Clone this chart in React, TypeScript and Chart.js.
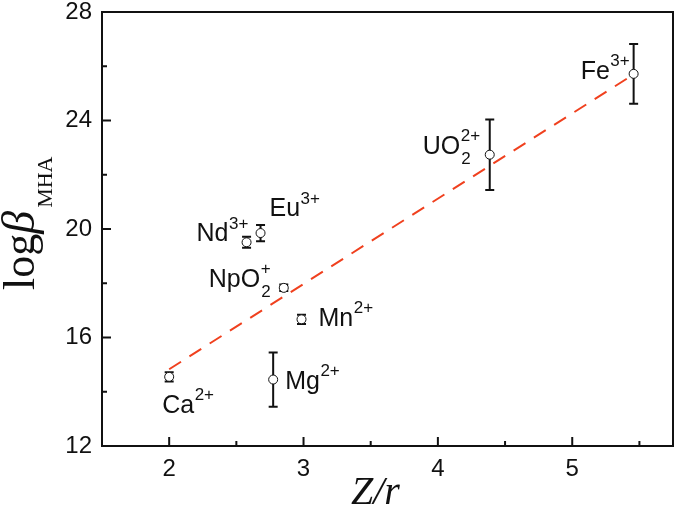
import React, { useEffect, useRef } from 'react';
import { Chart, registerables } from 'chart.js';

Chart.register(...registerables);

// ---- data ----
const ionNames = ['Ca', 'Mg', 'Mn', 'NpO', 'Nd', 'Eu', 'UO', 'Fe'];
const ionSup = ['2+', '2+', '2+', '+', '3+', '3+', '2+', '3+'];
const ionSub = ['', '', '', '2', '', '', '2', ''];
const zOverR = [2.0, 2.774, 2.985, 2.853, 2.576, 2.68, 4.386, 5.457];
const logBeta = [14.55, 14.45, 16.67, 17.83, 19.51, 19.85, 22.74, 25.72];
const logBetaErr = [0.17, 1.0, 0.17, 0.12, 0.2, 0.3, 1.3, 1.1];
const fitZ = [2.0, 5.457];
const fitLogBeta = [14.83, 25.7];
const xMajorTicks = [2, 3, 4, 5];
const xMinorTicks = [2.5, 3.5, 4.5, 5.5];
const yMajorTicks = [12, 16, 20, 24, 28];
const yMinorTicks = [14, 18, 22, 26];

// label placement offsets (pixels from the point)
const labelOffsets: [number, number][] = [
  [-7, 36], [12, 9], [17, 6.5], [-75, -1], [-50, -1], [9, -17], [-67, -1], [-53, 5],
];

const SANS = '"Liberation Sans", Arial, sans-serif';
const SERIF = '"Liberation Serif", "Times New Roman", serif';
const PLOT_RIGHT = 673;

const decorPlugin = {
  id: 'decor',
  afterLayout(chart: any) {
    const xs = chart.scales.x;
    if (chart.chartArea.right !== PLOT_RIGHT) {
      chart.chartArea.right = PLOT_RIGHT;
      chart.chartArea.width = PLOT_RIGHT - chart.chartArea.left;
      xs.right = PLOT_RIGHT;
      xs.width = PLOT_RIGHT - xs.left;
      xs.configure();
    }
  },
  beforeDatasetDraw(chart: any, args: any) {
    if (args.index !== 0) return;
    const ctx = chart.ctx;
    const xs = chart.scales.x;
    const ys = chart.scales.y;
    ctx.save();
    ctx.strokeStyle = '#111';
    ctx.lineWidth = 2;
    for (let i = 0; i < zOverR.length; i++) {
      const px = xs.getPixelForValue(zOverR[i]);
      const top = ys.getPixelForValue(logBeta[i] + logBetaErr[i]);
      const bot = ys.getPixelForValue(logBeta[i] - logBetaErr[i]);
      ctx.beginPath();
      ctx.moveTo(px, top);
      ctx.lineTo(px, bot);
      ctx.moveTo(px - 4.5, top);
      ctx.lineTo(px + 4.5, top);
      ctx.moveTo(px - 4.5, bot);
      ctx.lineTo(px + 4.5, bot);
      ctx.stroke();
    }
    ctx.restore();
  },
  afterDatasetsDraw(chart: any) {
    const ctx = chart.ctx;
    const xs = chart.scales.x;
    const ys = chart.scales.y;
    const { left, right, top, bottom } = chart.chartArea;
    ctx.save();
    // frame
    ctx.strokeStyle = '#111';
    ctx.lineWidth = 2;
    ctx.strokeRect(left, top, right - left, bottom - top);
    ctx.beginPath();
    for (const v of xMajorTicks) {
      const p = xs.getPixelForValue(v);
      ctx.moveTo(p, bottom);
      ctx.lineTo(p, bottom - 9);
    }
    for (const v of xMinorTicks) {
      const p = xs.getPixelForValue(v);
      ctx.moveTo(p, bottom);
      ctx.lineTo(p, bottom - 5);
    }
    for (const v of yMajorTicks) {
      const p = ys.getPixelForValue(v);
      ctx.moveTo(left, p);
      ctx.lineTo(left + 9, p);
    }
    for (const v of yMinorTicks) {
      const p = ys.getPixelForValue(v);
      ctx.moveTo(left, p);
      ctx.lineTo(left + 5, p);
    }
    ctx.stroke();

    // point labels
    ctx.fillStyle = '#111';
    ctx.textBaseline = 'alphabetic';
    ctx.textAlign = 'left';
    for (let i = 0; i < ionNames.length; i++) {
      const px = xs.getPixelForValue(zOverR[i]) + labelOffsets[i][0];
      const py = ys.getPixelForValue(logBeta[i]) + labelOffsets[i][1];
      ctx.font = `25px ${SANS}`;
      ctx.fillText(ionNames[i], px, py);
      const w = ctx.measureText(ionNames[i]).width;
      ctx.font = `17px ${SANS}`;
      ctx.fillText(ionSup[i], px + w + 0.5, py - 12.5);
      if (ionSub[i]) ctx.fillText(ionSub[i], px + w + 1, py + 10);
    }

    // y title
    ctx.save();
    ctx.translate(34, 290);
    ctx.rotate(-Math.PI / 2);
    ctx.font = `44px ${SERIF}`;
    ctx.fillText('log', 0, 0);
    let w1 = ctx.measureText('log').width;
    ctx.font = `italic 46px ${SERIF}`;
    ctx.fillText('β', w1, 0);
    w1 += ctx.measureText('β').width + 3;
    ctx.font = `22px ${SERIF}`;
    ctx.fillText('MHA', w1, 18);
    ctx.restore();

    // x title
    ctx.font = `italic 40px ${SERIF}`;
    ctx.fillText('Z/r', 351, 504);
    ctx.restore();
  },
};

export default function App() {
  const ref = useRef<HTMLCanvasElement>(null);
  useEffect(() => {
    if (!ref.current) return;
    const points = zOverR.map((x, i) => ({ x, y: logBeta[i] }));
    const fit = fitZ.map((x, i) => ({ x, y: fitLogBeta[i] }));
    const chart = new Chart(ref.current, {
      type: 'scatter',
      data: {
        datasets: [
          {
            data: points,
            order: 0,
            pointRadius: 4.5,
            pointBackgroundColor: '#ffffff',
            pointBorderColor: '#111',
            pointBorderWidth: 1,
            showLine: false,
          },
          {
            data: fit,
            order: 1,
            showLine: true,
            pointRadius: 0,
            borderColor: '#F0401E',
            borderWidth: 2,
            borderDash: [14, 10],
          },
        ],
      },
      options: {
        responsive: false,
        animation: false,
        events: [],
        layout: { padding: { top: 12, right: 2, left: 0, bottom: 0 } },
        plugins: { legend: { display: false }, tooltip: { enabled: false } },
        scales: {
          x: {
            type: 'linear',
            min: 1.5,
            max: 5.75,
            grid: { display: false, drawTicks: false },
            border: { display: false },
            afterBuildTicks: (s: any) => { s.ticks = xMajorTicks.map((v) => ({ value: v })); },
            afterFit: (s: any) => { s.height = 68; s.paddingLeft = 0; s.paddingRight = 0; },
            ticks: {
              color: '#111',
              padding: 9,
              font: { family: SANS, size: 24 },
              callback: (v: any) => String(v),
            },
          },
          y: {
            type: 'linear',
            min: 12,
            max: 28,
            grid: { display: false, drawTicks: false },
            border: { display: false },
            afterBuildTicks: (s: any) => { s.ticks = yMajorTicks.map((v) => ({ value: v })); },
            afterFit: (s: any) => { s.width = 102; s.paddingTop = 0; s.paddingBottom = 0; },
            ticks: {
              color: '#111',
              padding: 10,
              font: { family: SANS, size: 24 },
              callback: (v: any) => String(v),
            },
          },
        },
      },
      plugins: [decorPlugin],
    });
    return () => chart.destroy();
  }, []);
  return (
    <div style={{ position: 'fixed', left: 0, top: 0, width: 675, height: 514, background: '#fff' }}>
      <canvas ref={ref} width={675} height={514} />
    </div>
  );
}
